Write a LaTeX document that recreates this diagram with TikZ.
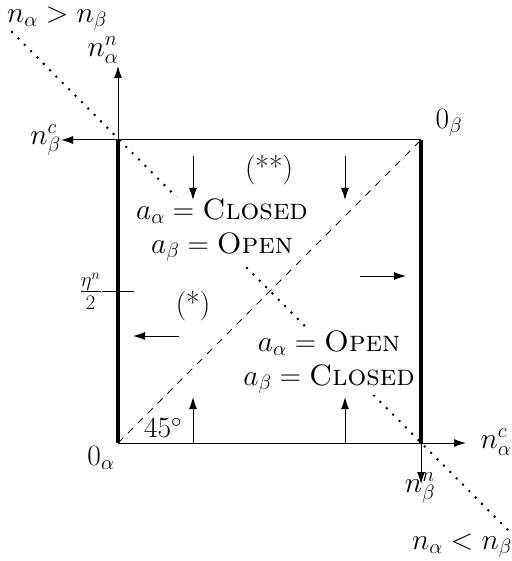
\documentclass[tikz,border=0pt]{standalone}
\usepackage{fix-cm}
\usetikzlibrary{arrows.meta}
\begin{document}
\begin{tikzpicture}[x=1pt,y=-1pt,
  font=\fontsize{29.5}{34}\selectfont,
  thinline/.style={line width=1pt},
  thickline/.style={line width=3.2pt},
  ar/.style={line width=1pt,-{Latex[length=12pt,width=8pt]}},
  dotline/.style={line width=2.8pt,dash pattern=on 0pt off 9pt,line cap=round},
  dashline/.style={line width=0.9pt,dash pattern=on 7pt off 7pt},
  txt/.style={inner sep=0pt},
  box/.style={fill=white,align=center,inner sep=1pt}]
\useasboundingbox (0,0) rectangle (511,561);
% corners and ends
\coordinate (O) at (118,443);
\coordinate (P) at (421,443);
\coordinate (Q) at (421,140);
\coordinate (R) at (118,140);
\coordinate (ya) at (118,66);
\coordinate (xl) at (61,140);
\coordinate (xr) at (466,443);
\coordinate (yb) at (421,484);
\coordinate (d1) at (12,32);
\coordinate (d2) at (508,530);
% dotted separation line
\draw[dotline] (d1) -- (d2);
% region texts
\node[box] (up) at (222,230) {$a_\alpha = \textsc{Closed}$\\$a_\beta = \textsc{Open}$};
\node[box] (lo) at (329,362) {$a_\alpha = \textsc{Open}$\\$a_\beta = \textsc{Closed}$};
% diagonal
\draw[dashline] (O) -- (Q);
% axes
\draw[ar] (O) -- (ya);
\draw[ar] (Q) -- (xl);
\draw[ar] (O) -- (xr);
\draw[ar] (Q) -- (yb);
\draw[thickline] (R) -- (O);
\draw[thickline] (Q) -- (P);
% tick
\coordinate (t1) at (102,291);
\coordinate (t2) at (134,291);
\draw[thinline] (t1) -- (t2);
% flow arrows
\coordinate (a1s) at (193,156); \coordinate (a1e) at (193,200);
\coordinate (a2s) at (345,156); \coordinate (a2e) at (345,200);
\coordinate (a3s) at (193,443); \coordinate (a3e) at (193,397);
\coordinate (a4s) at (345,443); \coordinate (a4e) at (345,397);
\coordinate (a5s) at (360,276); \coordinate (a5e) at (406,276);
\coordinate (a6s) at (179,336); \coordinate (a6e) at (133,336);
\draw[ar] (a1s) -- (a1e);
\draw[ar] (a2s) -- (a2e);
\draw[ar] (a3s) -- (a3e);
\draw[ar] (a4s) -- (a4e);
\draw[ar] (a5s) -- (a5e);
\draw[ar] (a6s) -- (a6e);
% labels
\node[txt] (lgt) at (57,19) {$n_\alpha > n_\beta$};
\node[txt] (llt) at (462,546) {$n_\alpha < n_\beta$};
\node[txt] (lan) at (103,50) {$n_\alpha^n$};
\node[txt,anchor=east] (lbc) at (xl) {$n_\beta^c$};
\node[txt] (lac) at (496,442) {$n_\alpha^c$};
\node[txt] (lbn) at (420,488) {$n_\beta^n$};
\node[txt] (l0a) at (101,458) {$0_\alpha$};
\node[txt] (l0b) at (449,123) {$0_\beta$};
\node[txt] (l45) at (163,428) {$45^\circ$};
\node[txt,anchor=east] (leta) at (t1) {$\frac{\eta^n}{2}$};
\node[txt] (ss) at (269,170) {(**)};
\node[txt] (s) at (193,306) {(*)};
\end{tikzpicture}
\end{document}
